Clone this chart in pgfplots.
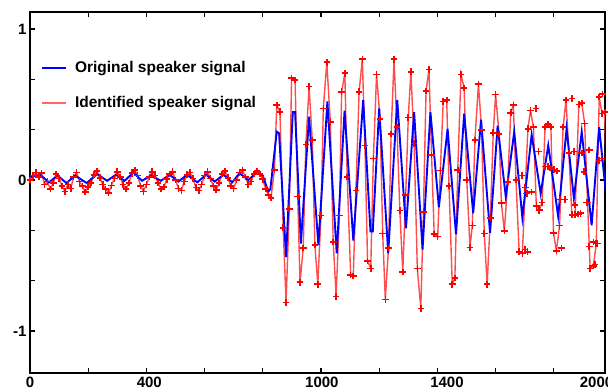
\documentclass[border=0pt]{standalone}
\usepackage{fontspec}
\setmainfont{Liberation Sans}
\usepackage{pgfplots}
\pgfplotsset{compat=1.18}
\begin{document}
\begin{tikzpicture}
\begin{axis}[
  at={(30pt,16pt)}, anchor=south west,
  scale only axis, width=575pt, height=361pt,
  xmin=0, xmax=1976, ymin=-1.278, ymax=1.113,
  xtick={0,200,...,1800}, xticklabels={,,,,,,,,,,},
  extra x ticks={0,410,1003,1433,1947},
  extra x tick labels={0,400,1000,1400,2000},
  extra x tick style={major tick length=0pt},
  ytick={-1,-0.6667,-0.3333,0,0.3333,0.6667,1},
  yticklabels={-1,,,0,,,1},
  tick align=inside, major tick length=5pt,
  tick style={black, line width=1.2pt},
  axis line style={black, line width=1.8pt},
  ticklabel style={font=\fontsize{15}{18}\selectfont\bfseries},
  legend style={at={(0.014,0.939)}, anchor=north west, draw=none, fill=none,
    font=\fontsize{15.5}{18}\selectfont\bfseries, row sep=18pt, column sep=6pt},
  legend cell align=left,
  legend image code/.code={\draw[#1] (0pt,0pt) -- (24pt,0pt);},
]
\addlegendimage{empty legend}
\addlegendentry{}
\addlegendimage{blue, line width=1.8pt}
\addlegendentry{Original speaker signal}
\addlegendimage{red!60, line width=1.6pt}
\addlegendentry{Identified speaker signal}
\addplot[color=red!70, line width=1.4pt, mark=+, mark size=3.3pt,
  mark options={color=red, line width=1.6pt, solid}, forget plot] coordinates {
(0,0.0) (10,0.03) (20,0.05) (30,0.02) (40,0.045) (50,-0.03) (60,-0.01) (70,-0.06) (80,-0.02) (90,0.04)
(100,0.01) (110,-0.04) (120,-0.075) (130,-0.03) (140,-0.055) (150,0.02) (160,0.05) (170,-0.01) (180,-0.04) (190,-0.08)
(200,-0.045) (210,-0.02) (220,0.035) (230,0.06) (240,0.015) (250,-0.03) (260,-0.06) (270,-0.085) (280,-0.035) (290,0.01)
(300,0.055) (310,0.02) (320,-0.03) (330,-0.06) (340,-0.02) (350,0.045) (360,0.065) (370,0.03) (380,-0.04) (390,-0.075)
(400,-0.03) (410,0.02) (420,0.055) (430,0.03) (440,-0.02) (450,-0.06) (460,-0.045) (470,0.005) (480,0.04) (490,0.055)
(500,0.0) (510,-0.055) (520,-0.07) (530,-0.01) (540,0.035) (550,0.05) (560,0.01) (570,-0.05) (580,-0.07) (590,-0.03)
(600,0.03) (610,0.055) (620,0.01) (630,-0.04) (640,-0.065) (650,-0.02) (660,0.04) (670,0.06) (680,0.015) (690,-0.04)
(700,-0.055) (710,0.0) (720,0.05) (730,0.065) (740,0.02) (750,-0.03) (760,-0.01) (770,0.04) (780,0.06) (790,0.04)
(800,0.005) (810,-0.06) (820,-0.1) (828,-0.12)
(840,0.066) (848,0.497) (859,0.452) (870,-0.316) (880,-0.81) (891,-0.19) (899,0.677) (911,0.662) (920,-0.11) (928,-0.677)
(939,-0.45) (948,0.236) (959,0.62) (970,0.265) (979,-0.43) (989,-0.69) (1000,-0.236) (1008,0.475) (1020,0.78) (1032,0.386)
(1042,-0.41) (1052,-0.77) (1063,-0.236) (1071,0.585) (1082,0.707) (1090,0.02) (1102,-0.63) (1111,-0.636) (1120,-0.07) (1131,0.585)
(1142,0.80) (1151,0.23) (1160,-0.536) (1171,-0.585) (1180,0.144) (1191,0.70) (1203,0.404) (1212,-0.353) (1221,-0.79) (1232,-0.45)
(1241,0.305) (1251,0.80) (1261,0.35) (1271,-0.203) (1281,-0.61) (1291,-0.1) (1300,0.415) (1309,0.717) (1320,0.243) (1331,-0.585)
(1343,-0.85) (1352,-0.21) (1361,0.59) (1371,0.733) (1380,0.166) (1389,-0.358) (1401,-0.375) (1410,0.062) (1420,0.52) (1432,0.53)
(1440,-0.04) (1451,-0.69) (1460,-0.65) (1470,0.066) (1481,0.70) (1492,0.61) (1501,0.0) (1512,-0.446) (1520,-0.30) (1529,0.265)
(1541,0.636) (1552,0.33) (1561,-0.353) (1571,-0.69) (1582,-0.25) (1592,0.313) (1600,0.567) (1612,0.305) (1620,-0.154) (1630,-0.336)
(1642,-0.011) (1652,0.446) (1661,0.497) (1670,0.0) (1681,-0.475) (1692,-0.485) (1702,-0.05) (1711,0.34) (1720,0.46) (1730,0.35)
(1740,-0.17) (1750,-0.20) (1760,-0.15) (1770,0.35) (1780,0.37) (1790,0.35) (1799,-0.35) (1809,-0.47) (1820,-0.30) (1832,0.35)
(1842,0.53) (1852,0.18) (1862,-0.23) (1873,-0.23) (1886,0.50) (1896,0.51) (1906,0.375) (1916,-0.15) (1925,-0.585) (1936,-0.57)
(1946,-0.42) (1956,0.55) (1966,0.44) (1975,0.45) (1985,-0.39)
};
\addplot[only marks, mark=+, mark size=3.3pt, mark options={color=red, line width=1.6pt}, forget plot] coordinates {
(1690,0.03) (1701,-0.46) (1707,-0.09) (1709,-0.475) (1724,-0.08) (1739,0.475) (1747,0.19) (1770,0.09) (1781,0.09) (1787,0.08)
(1800,0.07) (1810,0.06) (1821,-0.13) (1827,-0.45) (1838,-0.13) (1862,0.54) (1869,0.19) (1873,-0.166) (1884,-0.225) (1892,-0.22)
(1896,0.18) (1904,0.055) (1913,-0.15) (1922,0.2) (1922,-0.44) (1936,-0.41) (1950,-0.42) (1942,-0.56) (1968,0.57) (1956,0.13)
(1964,0.144) (1976,0.45)
};
\addplot[color=blue, line width=1.9pt, forget plot] coordinates {
(0,0.02) (35,0.035) (65,-0.015) (95,0.03) (125,-0.02) (155,0.03) (195,-0.02) (230,0.04) (265,-0.005) (295,0.035)
(325,-0.005) (355,0.05) (385,-0.005) (415,0.03) (450,-0.005) (480,0.035) (510,-0.01) (540,0.035) (575,-0.015) (605,0.035)
(635,-0.01) (665,0.035) (695,-0.015) (720,0.045) (750,0.0) (778,0.048) (800,0.03) (819,-0.077) (826,-0.06) (848,0.32)
(856,0.31) (880,-0.51) (903,0.45) (911,0.45) (931,-0.42) (959,0.42) (991,-0.43) (1022,0.52) (1054,-0.485) (1081,0.46)
(1111,-0.40) (1145,0.53) (1170,-0.34) (1178,-0.34) (1200,0.475) (1231,-0.485) (1262,0.53) (1292,-0.32) (1320,0.45) (1349,-0.46)
(1376,0.45) (1405,-0.18) (1435,0.34) (1464,-0.36) (1492,0.44) (1523,-0.22) (1550,0.40) (1581,-0.35) (1607,0.36) (1635,-0.11)
(1664,0.32) (1692,-0.25) (1724,0.30) (1755,-0.09) (1781,0.23) (1815,-0.24) (1844,0.34) (1869,-0.12) (1896,0.32) (1930,-0.30)
(1956,0.35) (1985,-0.2)
};
\end{axis}
\pgfresetboundingbox
\path[use as bounding box] (0,0) rectangle (608pt,389pt);
\end{tikzpicture}
\end{document}
